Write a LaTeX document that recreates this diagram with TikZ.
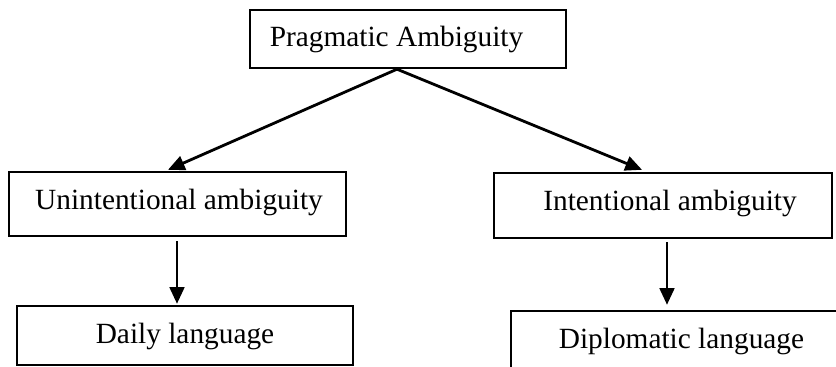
\documentclass[tikz,border=0pt]{standalone}
\usepackage{fontspec}
\setmainfont{Liberation Serif}
\usetikzlibrary{arrows.meta,calc}
\begin{document}
\begin{tikzpicture}[x=0.75pt,y=-0.75pt,
  box/.style={draw,line width=1.8pt,rectangle,inner sep=0pt},
  lbl/.style={anchor=base,inner sep=0pt,font=\fontsize{22}{26}\selectfont},
  arr/.style={line width=2.1pt,-{Triangle[length=12.5pt,width=11pt]}}]
\useasboundingbox (0,0) rectangle (836,367);
\clip (0,0) rectangle (836,367);

% boxes
\node[box,minimum width=237pt,minimum height=43.5pt] (top) at (408,39) {};
\node[box,minimum width=252.75pt,minimum height=48pt] (una) at (177.5,204) {};
\node[box,minimum width=253.5pt,minimum height=48.75pt] (ina) at (663,205.5) {};
\node[box,minimum width=252pt,minimum height=44.25pt] (daily) at (185,335.5) {};
\node[box,minimum width=255.75pt,minimum height=45.75pt] (dip) at (681.5,341.5) {};

% labels
\node[lbl] (ttop) at (396.5,47) {Pragmatic Ambiguity};
\node[lbl] (tuna) at (179,210) {Unintentional ambiguity};
\node[lbl] (tina) at (670,211) {Intentional ambiguity};
\node[lbl] (tdaily) at (185,344) {Daily language};
\node[lbl] (tdip) at (681.5,348.5) {Diplomatic language};

% connectors
\draw[arr] ($(top.south)+(-11,0)$) -- ($(una.north)+(-9.5,-1)$);
\draw[arr] ($(top.south)+(-11,0)$) -- ($(ina.north)+(-21,-2)$);
\draw[arr] ($(una.south)+(-0.5,4)$) -- ($(una.south |- daily.north)+(-0.5,-1)$);
\draw[arr] ($(ina.south)+(4,3)$) -- ($(ina.south |- dip.north)+(4,-5)$);
\end{tikzpicture}
\end{document}
